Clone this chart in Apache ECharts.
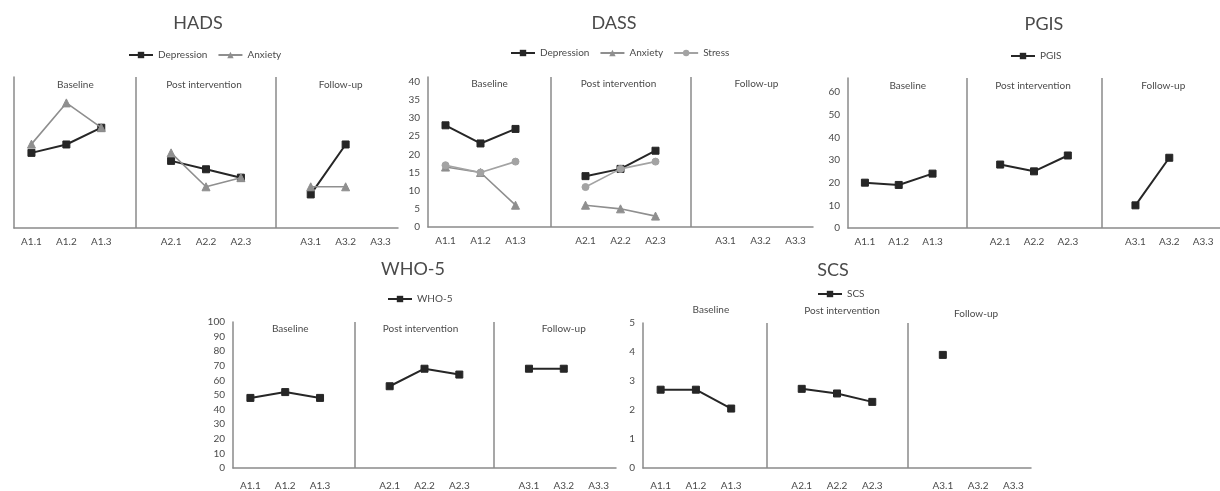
<!DOCTYPE html>
<html><head><meta charset="utf-8">
<script src="https://cdn.jsdelivr.net/npm/echarts@6/dist/echarts.min.js"></script>
<style>html,body{margin:0;padding:0;background:#fff}#c{width:1220px;height:491px}</style>
</head><body><div id="c"></div><script>
// ---- data ----
const categories = ['A1.1','A1.2','A1.3','','A2.1','A2.2','A2.3',' ','A3.1','A3.2','A3.3'];
const sectionNames = ['Baseline','Post intervention','Follow-up'];
const sectionStart = ['A1.1','A2.1','A3.1'];
const sectionEnd = ['A1.3','A2.3','A3.3'];
const separatorIndex = [3, 7];

const hadsDepression = [20.6, 22.9, 27.5, null, 18.4, 16.1, 13.8, null, 9.2, 22.9, null];
const hadsAnxiety    = [23, 34.3, 27.5, null, 20.6, 11.3, 13.8, null, 11.3, 11.3, null];
const dassDepression = [28, 23, 27, null, 14, 16, 21, null, null, null, null];
const dassAnxiety    = [16.5, 15, 6, null, 6, 5, 3, null, null, null, null];
const dassStress     = [17, 15, 18, null, 11, 16, 18, null, null, null, null];
const pgisValues     = [20, 19, 24, null, 28, 25, 32, null, 10, 31, null];
const who5Values     = [48, 52, 48, null, 56, 68, 64, null, 68, 68, null];
const scsValues      = [2.7, 2.7, 2.05, null, 2.73, 2.57, 2.28, null, 3.9, null, null];

// ---- styles / layout ----
const FONT = 'Lato, "Open Sans", sans-serif';
const TXT = '#4a4a4a';
const AX = '#8a8a8a';
const DARK = '#262626';
const GRAY_A = '#8f8f8f';
const GRAY_S = '#a3a3a3';

const styles = {
  dep:   {symbol:'rect', symbolSize:7, color:DARK, width:2},
  anx:   {symbol:'triangle', symbolSize:8, color:GRAY_A, width:1.6},
  str:   {symbol:'circle', symbolSize:7, color:GRAY_S, width:1.6},
  single:{symbol:'rect', symbolSize:7, color:DARK, width:2}
};

const panels = [
  {title:'HADS', tx:198, ty:14, lx:128, ly:50,
   grid:{left:14, top:77, width:384, height:151}, max:41.4, interval:5, showY:false, showMax:false,
   labelPos:'insideTop', labelDist:3, offsets:[[9,0],[-2,0],[-5,0]], xMargin:9,
   series:[['Depression',hadsDepression,'dep'],['Anxiety',hadsAnxiety,'anx']]},
  {title:'DASS', tx:614, ty:14, lx:510, ly:48,
   grid:{left:428, top:77, width:385, height:150}, max:41.3, interval:5, showY:true, showMax:false,
   labelPos:'insideTop', labelDist:2, offsets:[[9,0],[-2,0],[-4,0]], xMargin:9,
   series:[['Depression',dassDepression,'dep'],['Anxiety',dassAnxiety,'anx'],['Stress',dassStress,'str']]},
  {title:'PGIS', tx:1044, ty:15, lx:1010, ly:51,
   grid:{left:848, top:78, width:381, height:150}, max:66.2, interval:10, showY:true, showMax:false,
   labelPos:'insideTop', labelDist:3, offsets:[[9,0],[-1,0],[-6,0]], xMargin:9,
   series:[['PGIS',pgisValues,'single']]},
  {title:'WHO-5', tx:413, ty:260, lx:387, ly:294,
   grid:{left:233, top:322, width:383, height:150}, max:100, interval:10, showY:true, showMax:true,
   labelPos:'insideTop', labelDist:2, offsets:[[5,0],[-4,0],[0,0]], xMargin:13,
   series:[['WHO-5',who5Values,'single']]},
  {title:'SCS', tx:833, ty:261, lx:817, ly:289,
   grid:{left:643, top:323, width:388, height:150}, max:5, interval:1, showY:true, showMax:true,
   labelPos:'top', labelDist:4, offsets:[[15,-4],[5,-3],[-2,0]], xMargin:13,
   series:[['SCS',scsValues,'single']]}
];

const option = {
  animation:false,
  backgroundColor:'#ffffff',
  textStyle:{fontFamily:FONT},
  title:[], legend:[], grid:[], xAxis:[], yAxis:[], series:[]
};

panels.forEach((p, pi) => {
  option.title.push({text:p.title, left:p.tx, top:p.ty, textAlign:'center', padding:0,
    textStyle:{fontFamily:FONT, fontSize:18, fontWeight:'normal', color:TXT}});
  option.legend.push({data:p.series.map(s=>s[0]), left:p.lx, top:p.ly, selectedMode:false,
    padding:0, itemWidth:24, itemHeight:8, itemGap:10,
    textStyle:{fontFamily:FONT, fontSize:10, color:TXT}});
  option.grid.push(Object.assign({containLabel:false}, p.grid));
  option.xAxis.push({type:'category', gridIndex:pi, data:categories, boundaryGap:true,
    axisLine:{lineStyle:{color:AX, width:1.5}}, axisTick:{show:false},
    axisLabel:{interval:0, fontFamily:FONT, fontSize:10, color:TXT, margin:p.xMargin}});
  option.yAxis.push({type:'value', gridIndex:pi, min:0, max:p.max, interval:p.interval,
    axisLine:{show:true, lineStyle:{color:AX, width:1.5}}, axisTick:{show:false},
    splitLine:{show:false},
    axisLabel:{show:p.showY, showMaxLabel:p.showMax, fontFamily:FONT, fontSize:10, color:TXT, margin:8}});
  p.series.forEach((s, si) => {
    const st = styles[s[2]];
    const ser = {name:s[0], type:'line', xAxisIndex:pi, yAxisIndex:pi, data:s[1],
      symbol:st.symbol, symbolSize:st.symbolSize, showAllSymbol:true, connectNulls:false,
      itemStyle:{color:st.color, borderColor:st.color},
      lineStyle:{color:st.color, width:st.width}, z: 3 + si};
    if (si === 0) {
      ser.markLine = {silent:true, symbol:['none','none'], label:{show:false},
        lineStyle:{color:AX, width:1.5, type:'solid'},
        data: separatorIndex.map(ix => ({xAxis: ix}))};
      ser.markArea = {silent:true, itemStyle:{color:'rgba(0,0,0,0)'},
        data: sectionNames.map((nm, k) => [
          {name:nm, xAxis:sectionStart[k],
           label:{show:true, position:p.labelPos, distance:p.labelDist, offset:p.offsets[k],
             fontFamily:FONT, fontSize:10, color:TXT}},
          {xAxis:sectionEnd[k]}
        ])};
    }
    option.series.push(ser);
  });
});

const chart = echarts.init(document.getElementById('c'), null, {renderer:'canvas'});
chart.setOption(option);
</script></body></html>
